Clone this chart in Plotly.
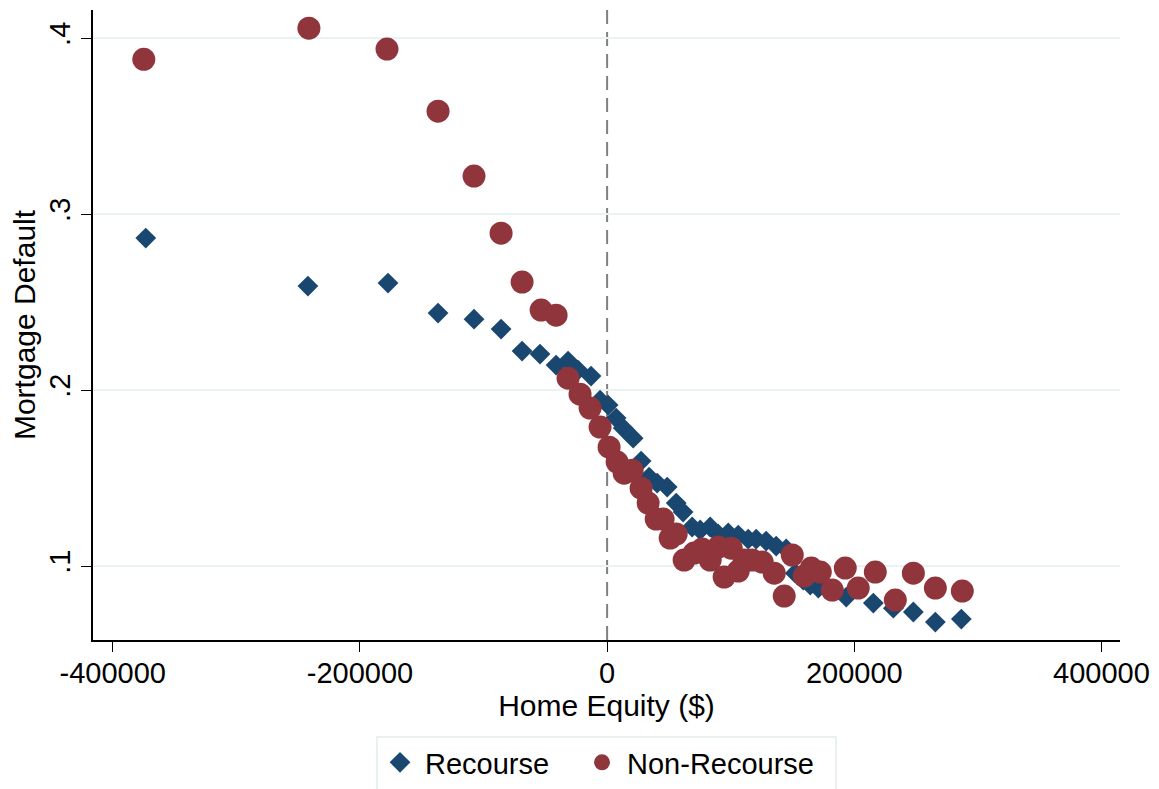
import plotly.graph_objects as go

# Recourse (diamonds)
rec_x = [-373300, -242100, -177300, -136800, -107700, -85800, -68800, -54300, -41300, -31600,
         -23500, -13000, -5700, 800, 7300, 13000, 21100, 27500, 34000, 40500,
         48600, 55900, 61500, 68800, 75300, 83400, 89900, 98000, 106100, 114200,
         120600, 128700, 136800, 144900, 152200, 158700, 164400, 170900, 182200, 193500,
         215400, 231600, 247800, 265600, 286600]
rec_y = [0.2864, 0.2591, 0.2608, 0.2438, 0.2403, 0.2347, 0.2222, 0.2205, 0.2142, 0.2165,
         0.2114, 0.2080, 0.1943, 0.1915, 0.1841, 0.1784, 0.1727, 0.1597, 0.1506, 0.1472,
         0.1449, 0.1358, 0.1307, 0.1222, 0.1205, 0.1222, 0.1182, 0.1188, 0.1176, 0.1153,
         0.1153, 0.1142, 0.1114, 0.1097, 0.0960, 0.0920, 0.0892, 0.0875, 0.0858, 0.0824,
         0.0790, 0.0761, 0.0739, 0.0682, 0.0699]

# Non-Recourse (circles)
non_x = [-374900, -241300, -178100, -136800, -107700, -85800, -68800, -53400, -41300, -31600,
         -21900, -13800, -5700, 1600, 8100, 13800, 20200, 27500, 33200, 39700,
         45300, 51000, 55900, 62300, 70400, 76900, 83400, 89900, 94700, 100400,
         106100, 110900, 117400, 125500, 135200, 143300, 149800, 159500, 165200, 172500,
         182200, 192700, 203200, 217000, 233200, 247800, 265600, 287400]
non_y = [0.3880, 0.4057, 0.3938, 0.3585, 0.3216, 0.2892, 0.2614, 0.2455, 0.2426, 0.2068,
         0.1977, 0.1898, 0.1790, 0.1676, 0.1591, 0.1528, 0.1545, 0.1443, 0.1358, 0.1267,
         0.1267, 0.1159, 0.1182, 0.1034, 0.1074, 0.1097, 0.1034, 0.1108, 0.0938, 0.1102,
         0.0972, 0.1034, 0.1034, 0.1023, 0.0960, 0.0830, 0.1063, 0.0943, 0.0989, 0.0966,
         0.0864, 0.0989, 0.0875, 0.0966, 0.0807, 0.0960, 0.0875, 0.0858]

x_ticks = [-400000, -200000, 0, 200000, 400000]
x_tick_labels = ["-400000", "-200000", "0", "200000", "400000"]
y_ticks = [0.1, 0.2, 0.3, 0.4]
y_tick_labels = [".1", ".2", ".3", ".4"]

FONT = "Liberation Sans, Arial, Helvetica, sans-serif"

fig = go.Figure()
fig.add_trace(go.Scatter(x=rec_x, y=rec_y, mode="markers", name="Recourse", legend="legend",
                         marker=dict(symbol="diamond", size=16, color="#1a476f", line=dict(width=0))))
fig.add_trace(go.Scatter(x=non_x, y=non_y, mode="markers", name="Non-Recourse", legend="legend2",
                         marker=dict(symbol="circle", size=23, color="#90353b", line=dict(width=0))))

fig.add_shape(type="line", x0=0, x1=0, y0=0, y1=1, xref="x", yref="paper",
              line=dict(color="#808080", width=2, dash="14px,8px"), layer="below")

# legend frame
fig.add_shape(type="rect", xref="paper", yref="paper", x0=0.2765, x1=0.7235, y0=-0.245, y1=-0.154,
              line=dict(color="#e4ecee", width=1.5), fillcolor="rgba(0,0,0,0)", layer="above")

leg_common = dict(orientation="h", y=-0.154, yanchor="top", xanchor="left",
                  bgcolor="rgba(0,0,0,0)", borderwidth=0, font=dict(size=29),
                  itemsizing="trace", itemwidth=40)

fig.update_layout(
    width=1151, height=781,
    paper_bgcolor="white", plot_bgcolor="white",
    margin=dict(l=85, r=39, t=2, b=149, autoexpand=False),
    font=dict(family=FONT, size=25, color="black"),
    showlegend=True,
    legend=dict(x=0.2746, **leg_common),
    legend2=dict(x=0.4713, **leg_common),
    xaxis=dict(range=[-416000, 415000], tickvals=x_ticks, ticktext=x_tick_labels,
               showgrid=False, zeroline=False, showline=True, linecolor="black", linewidth=1.5,
               ticks="outside", ticklen=10, tickcolor="black", tickfont=dict(size=29),
               ticklabelstandoff=-4, automargin=False,
               title=dict(text="Home Equity ($)", standoff=0)),
    yaxis=dict(range=[0.058, 0.416], tickvals=y_ticks, ticktext=y_tick_labels, tickangle=-90,
               showgrid=True, gridcolor="#eaf2f3", gridwidth=1.5, zeroline=False,
               showline=True, linecolor="black", linewidth=1.5,
               ticks="outside", ticklen=10, tickcolor="black", tickfont=dict(size=29),
               automargin=False,
               title=dict(text="Mortgage Default", standoff=8)),
)

fig.write_html("out.html")
